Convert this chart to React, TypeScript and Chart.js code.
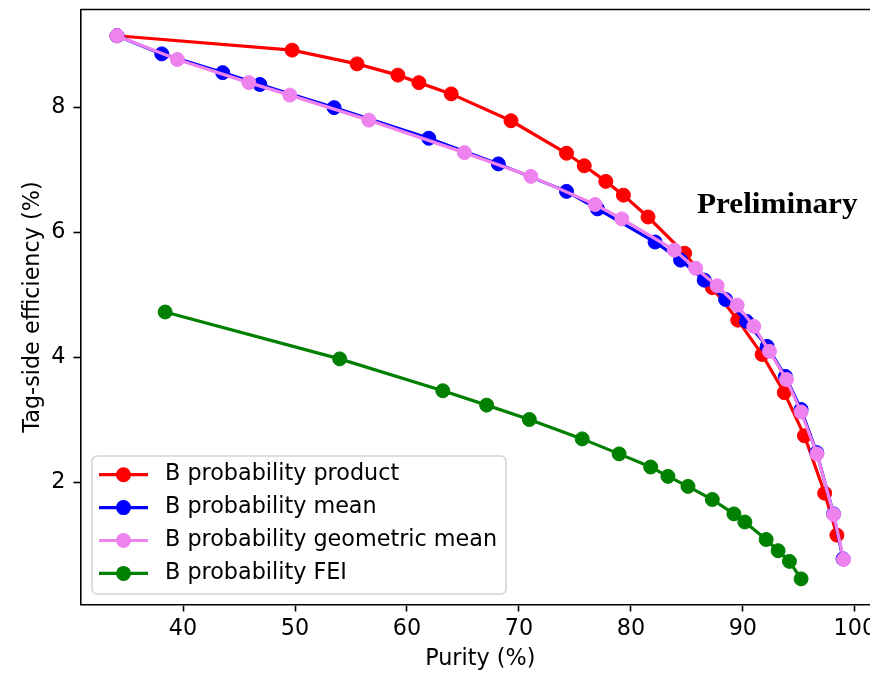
import React, { useEffect, useRef } from 'react';
import { Chart, registerables } from 'chart.js';

Chart.register(...registerables);

// ---- data ----
const PRODUCT_PURITY = [34.1, 49.74, 55.54, 59.19, 61.06, 63.95, 69.29, 74.25, 75.83, 77.76, 79.33, 81.53, 84.8, 87.27, 89.55, 91.72, 93.7, 95.5, 97.31, 98.4];
const PRODUCT_EFF = [9.15, 8.92, 8.7, 8.52, 8.4, 8.22, 7.79, 7.27, 7.07, 6.82, 6.6, 6.25, 5.67, 5.12, 4.6, 4.05, 3.44, 2.75, 1.83, 1.16];

const MEAN_PURITY = [34.1, 38.1, 43.54, 46.86, 53.49, 61.95, 68.16, 74.25, 77.02, 82.16, 84.44, 86.55, 88.46, 90.33, 92.17, 93.8, 95.2, 96.6, 98.1, 98.95];
const MEAN_EFF = [9.15, 8.86, 8.56, 8.37, 8.0, 7.51, 7.1, 6.66, 6.38, 5.85, 5.56, 5.24, 4.93, 4.58, 4.18, 3.7, 3.17, 2.48, 1.5, 0.78];

const GEO_PURITY = [34.1, 39.49, 45.88, 49.54, 56.6, 65.13, 71.07, 76.8, 79.19, 83.87, 85.78, 87.7, 89.49, 90.98, 92.38, 93.9, 95.2, 96.62, 98.11, 99.0];
const GEO_EFF = [9.15, 8.77, 8.4, 8.2, 7.8, 7.28, 6.9, 6.45, 6.22, 5.72, 5.43, 5.15, 4.84, 4.5, 4.1, 3.65, 3.13, 2.46, 1.49, 0.77];

const FEI_PURITY = [38.4, 53.99, 63.2, 67.12, 70.93, 75.65, 78.95, 81.77, 83.31, 85.1, 87.27, 89.2, 90.18, 92.08, 93.15, 94.16, 95.2];
const FEI_EFF = [4.73, 3.98, 3.47, 3.24, 3.01, 2.7, 2.46, 2.25, 2.1, 1.94, 1.73, 1.5, 1.37, 1.09, 0.91, 0.74, 0.46];

const SERIES_LABELS = ['B probability product', 'B probability mean', 'B probability geometric mean', 'B probability FEI'];
const SERIES_COLORS = ['#ff0000', '#0000ff', '#ee82ee', '#008000'];

const X_TICKS = [40, 50, 60, 70, 80, 90, 100];
const Y_TICKS = [2, 4, 6, 8];
const X_RANGE = [30.84, 102.25];
const Y_RANGE = [0.05, 9.57];

const X_TITLE = 'Purity (%)';
const Y_TITLE = 'Tag-side efficiency (%)';
const STAMP_TEXT = 'Preliminary';
const STAMP_POS = [85.9, 6.31]; // data coords of text start / baseline

// ---- layout ----
const CANVAS_W = 890;
const CANVAS_H = 673;
const FONT = '"DejaVu Sans", sans-serif';
const FS = 22.3;

const toPts = (xs: number[], ys: number[]) => xs.map((x, i) => ({ x, y: ys[i] }));

const decorPlugin = {
  id: 'refDecor',
  afterDraw(chart: any) {
    const { ctx, chartArea: a, scales } = chart;
    ctx.save();
    // top and right spines
    ctx.strokeStyle = '#000';
    ctx.lineWidth = 1.6;
    ctx.beginPath();
    ctx.moveTo(a.left, a.top);
    ctx.lineTo(a.right, a.top);
    ctx.lineTo(a.right, a.bottom);
    ctx.stroke();

    // stamp text
    const sx = scales.x.getPixelForValue(STAMP_POS[0]);
    const sy = scales.y.getPixelForValue(STAMP_POS[1]);
    ctx.save();
    ctx.translate(sx, sy);
    ctx.scale(1.04, 1);
    ctx.fillStyle = '#000';
    ctx.font = 'bold 30px "Liberation Serif", "Times New Roman", serif';
    ctx.textAlign = 'left';
    ctx.textBaseline = 'alphabetic';
    ctx.fillText(STAMP_TEXT, 0, 0);
    ctx.restore();

    // legend
    const ds = chart.data.datasets;
    ctx.font = `${FS}px ${FONT}`;
    let maxW = 0;
    ds.forEach((d: any) => { maxW = Math.max(maxW, ctx.measureText(d.label).width); });
    const boxL = a.left + 11.5;
    const boxB = a.bottom - 10.5;
    const rowH = 32.9;
    const boxH = 138;
    const boxT = boxB - boxH;
    const textX = boxL + 73;
    const boxW = textX - boxL + maxW + 9;
    ctx.beginPath();
    ctx.roundRect(boxL, boxT, boxW, boxH, 5);
    ctx.fillStyle = 'rgba(255,255,255,0.8)';
    ctx.fill();
    ctx.strokeStyle = '#d4d4d4';
    ctx.lineWidth = 1.6;
    ctx.stroke();
    ds.forEach((d: any, i: number) => {
      const cy = boxT + 18.7 + i * rowH;
      ctx.strokeStyle = d.borderColor;
      ctx.lineWidth = 3.2;
      ctx.beginPath();
      ctx.moveTo(boxL + 7, cy);
      ctx.lineTo(boxL + 56, cy);
      ctx.stroke();
      ctx.beginPath();
      ctx.arc(boxL + 31.5, cy, 7.5, 0, Math.PI * 2);
      ctx.fillStyle = d.borderColor;
      ctx.fill();
      ctx.fillStyle = '#000';
      ctx.textAlign = 'left';
      ctx.textBaseline = 'middle';
      ctx.fillText(d.label, textX, cy);
    });
    ctx.restore();
  },
};

export default function App() {
  const ref = useRef<HTMLCanvasElement>(null);
  useEffect(() => {
    const series = [
      toPts(PRODUCT_PURITY, PRODUCT_EFF),
      toPts(MEAN_PURITY, MEAN_EFF),
      toPts(GEO_PURITY, GEO_EFF),
      toPts(FEI_PURITY, FEI_EFF),
    ];
    const chart = new Chart(ref.current as HTMLCanvasElement, {
      type: 'line',
      data: {
        datasets: series.map((pts, i) => ({
          label: SERIES_LABELS[i],
          data: pts,
          borderColor: SERIES_COLORS[i],
          backgroundColor: SERIES_COLORS[i],
          pointBackgroundColor: SERIES_COLORS[i],
          pointBorderColor: SERIES_COLORS[i],
          borderWidth: 3.2,
          pointRadius: 7,
          pointBorderWidth: 1,
          tension: 0,
          fill: false,
          order: SERIES_LABELS.length - i,
        })),
      },
      options: {
        animation: false,
        responsive: false,
        devicePixelRatio: 1,
        parsing: false as any,
        layout: { padding: { top: 9.5, right: 10, left: 0, bottom: 0 } },
        plugins: { legend: { display: false }, tooltip: { enabled: false } },
        scales: {
          x: {
            type: 'linear',
            min: X_RANGE[0],
            max: X_RANGE[1],
            afterBuildTicks: (s: any) => { s.ticks = X_TICKS.map((v) => ({ value: v })); },
            afterFit: (s: any) => { s.height = 68.5; s.paddingLeft = 0; s.paddingRight = 0; },
            ticks: {
              color: '#000',
              font: { family: FONT, size: FS },
              padding: 4,
              maxRotation: 0,
              autoSkip: false,
              callback: (v: any) => String(v),
            },
            grid: { display: true, drawOnChartArea: false, drawTicks: true, tickLength: 7, tickWidth: 1.6, tickColor: '#000' },
            border: { display: true, color: '#000', width: 1.6 },
            title: { display: true, text: X_TITLE, color: '#000', font: { family: FONT, size: FS }, padding: { top: 0, bottom: 0.5 } },
          },
          y: {
            type: 'linear',
            min: Y_RANGE[0],
            max: Y_RANGE[1],
            afterBuildTicks: (s: any) => { s.ticks = Y_TICKS.map((v) => ({ value: v })); },
            afterFit: (s: any) => { s.width = 80.5; s.paddingTop = 0; s.paddingBottom = 0; },
            ticks: {
              color: '#000',
              font: { family: FONT, size: FS },
              padding: 8,
              autoSkip: false,
              callback: (v: any) => String(v),
            },
            grid: { display: true, drawOnChartArea: false, drawTicks: true, tickLength: 7, tickWidth: 1.6, tickColor: '#000' },
            border: { display: true, color: '#000', width: 1.6 },
            title: { display: true, text: Y_TITLE, color: '#000', font: { family: FONT, size: FS }, padding: { top: 20, bottom: 0 } },
          },
        },
      },
      plugins: [decorPlugin],
    } as any);
    return () => chart.destroy();
  }, []);
  return (
    <div style={{ position: 'fixed', left: 0, top: 0, width: 870, height: 673, overflow: 'hidden', background: '#fff' }}>
      <canvas ref={ref} width={CANVAS_W} height={CANVAS_H} style={{ display: 'block', width: CANVAS_W, height: CANVAS_H }} />
    </div>
  );
}
